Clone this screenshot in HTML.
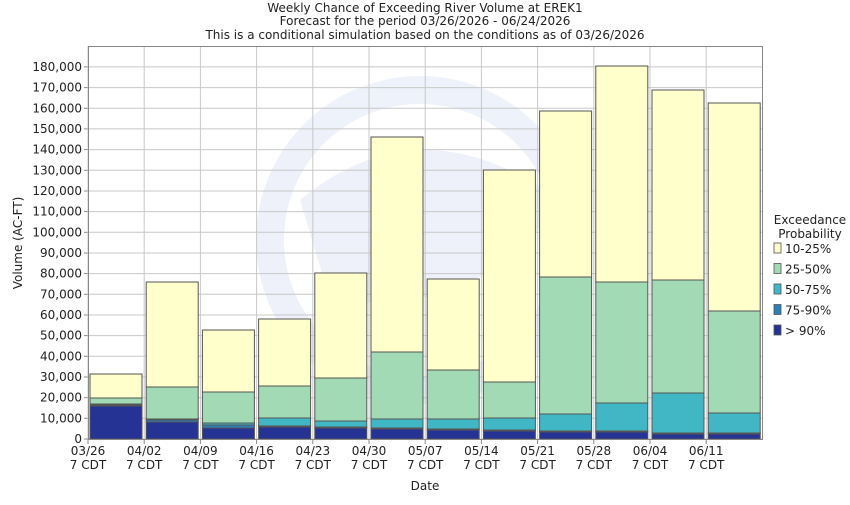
<!DOCTYPE html>
<html><head><style>body{margin:0;background:#fff}svg text{font-family:"DejaVu Sans","Liberation Sans",sans-serif;font-size:12px;fill:#222}</style></head><body>
<svg width="850" height="500" viewBox="0 0 850 500" xmlns="http://www.w3.org/2000/svg">
<rect width="850" height="500" fill="#fff"/>
<text x="425" y="12" text-anchor="middle">Weekly Chance of Exceeding River Volume at EREK1</text>
<text x="425" y="25" text-anchor="middle">Forecast for the period 03/26/2026 - 06/24/2026</text>
<text x="425" y="39" text-anchor="middle">This is a conditional simulation based on the conditions as of 03/26/2026</text>
<g opacity="0.3">
<ellipse cx="420" cy="240" rx="150" ry="150" fill="none" stroke="#c8d4f0" stroke-width="28"/>
<path d="M300 200 Q420 100 560 200 Q480 320 330 300 Z" fill="#c8d4f0"/>
</g>
<g stroke="#c8c8c8" stroke-width="1" id="grid"></g>
<g id="bars"></g>
<rect x="88.5" y="46.5" width="674" height="393" fill="none" stroke="#888"/>
<g id="ylab"></g><g id="xlab"></g>
<text x="22" y="243" text-anchor="middle" transform="rotate(-90 22 243)">Volume (AC-FT)</text>
<text x="425" y="490" text-anchor="middle">Date</text>
<text x="810" y="224" text-anchor="middle">Exceedance</text>
<text x="810" y="238" text-anchor="middle">Probability</text>
<g id="leg"></g>
<script>
var ns="http://www.w3.org/2000/svg";
function el(p,t,a,txt){var e=document.createElementNS(ns,t);for(var k in a)e.setAttribute(k,a[k]);if(txt)e.textContent=txt;document.getElementById(p).appendChild(e);}
for(var i=0;i<=18;i++){var y=439-i*20.67;
 el("grid","line",{x1:88,x2:763,y1:y.toFixed(1),y2:y.toFixed(1)});
 el("grid","line",{x1:84,x2:88,y1:y.toFixed(1),y2:y.toFixed(1),stroke:"#888"});
 el("ylab","text",{x:82,y:(y+4).toFixed(1),"text-anchor":"end"},(i*10000).toLocaleString("en-US"));}
var dates=["03/26","04/02","04/09","04/16","04/23","04/30","05/07","05/14","05/21","05/28","06/04","06/11"];
for(var i=0;i<12;i++){var x=88+i*56.2;
 el("grid","line",{x1:x,x2:x,y1:46,y2:439});
 el("grid","line",{x1:x,x2:x,y1:439,y2:444,stroke:"#888"});
 el("xlab","text",{x:x,y:455,"text-anchor":"middle"},dates[i]);
 el("xlab","text",{x:x,y:469,"text-anchor":"middle"},"7 CDT");}
var B=[[374,398,404,405,406],[282,387,419,420,422],[330,392,423,425,428],[319,386,418,426,427],[273,378,421,427,428],[137,352,419,428,429],[279,370,419,429,430],[170,382,418,430,431],[111,277,414,431,432],[66,282,403,431,432],[90,280,393,433,434],[103,311,413,433,434]];
var C=["#ffffcc","#a1dab4","#41b6c4","#2c7fb8","#253494"];
for(var i=0;i<12;i++){var x=90+i*56.2;
 for(var j=0;j<5;j++){var y0=B[i][j],y1=j<4?B[i][j+1]:439;
  el("bars","rect",{x:x.toFixed(1),y:y0,width:52,height:Math.max(0,y1-y0),fill:C[j],stroke:"#555","stroke-width":1});}}
var L=["10-25%","25-50%","50-75%","75-90%","> 90%"];
for(var j=0;j<5;j++){var y=243+j*20.5;
 el("leg","rect",{x:774,y:y,width:7,height:10,fill:C[j],stroke:"#555","stroke-width":0.8});
 el("leg","text",{x:785,y:y+10},L[j]);}
</script>
</svg>
</body></html>
